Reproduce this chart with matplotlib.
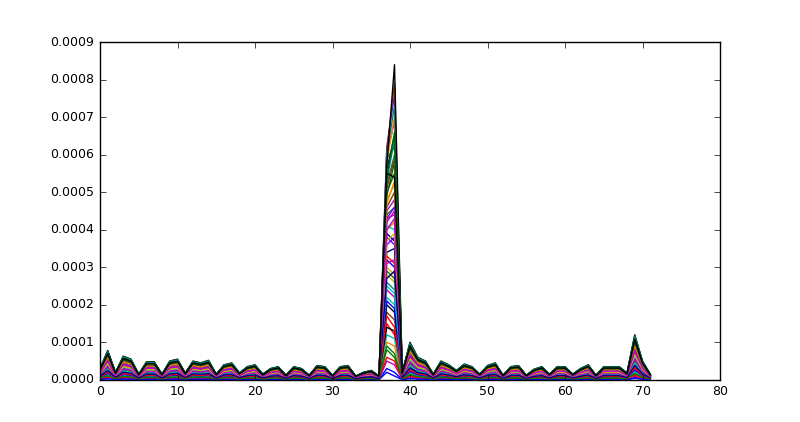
import matplotlib
matplotlib.use("Agg")
import matplotlib.pyplot as plt
import numpy as np
from cycler import cycler

plt.style.use("classic")
plt.rcParams["font.size"] = 9

# top envelope of the baseline profile (x = 0..71), in units of 1e-4; peak points set per series
envelope = [0.30, 0.78, 0.20, 0.63, 0.55, 0.15, 0.48, 0.48, 0.15, 0.50, 0.55, 0.18,
            0.50, 0.45, 0.52, 0.15, 0.40, 0.45, 0.18, 0.35, 0.40, 0.15, 0.30, 0.35,
            0.12, 0.35, 0.30, 0.12, 0.38, 0.35, 0.12, 0.35, 0.38, 0.10, 0.20, 0.25,
            0.10, 0.00, 0.00, 0.20, 1.00, 0.60, 0.50, 0.15, 0.50, 0.40, 0.25, 0.42,
            0.35, 0.15, 0.38, 0.45, 0.12, 0.35, 0.38, 0.12, 0.28, 0.35, 0.15, 0.35,
            0.35, 0.15, 0.30, 0.40, 0.12, 0.35, 0.35, 0.35, 0.18, 1.20, 0.50, 0.15]

scale = [0.05, 0.12, 0.20, 0.30, 0.08, 0.45, 0.60, 0.15, 0.25, 0.35, 0.50, 0.70, 0.90, 0.40,
         0.55, 0.65, 0.10, 0.18, 0.28, 0.38, 0.48, 0.58, 0.68, 0.78, 0.85, 0.95, 0.97, 1.00,
         0.22, 0.33, 0.44, 0.52, 0.62, 0.72, 0.82, 0.88, 0.92, 0.42, 0.75, 0.80, 0.98, 0.93,
         0.03, 0.14, 0.26, 0.36, 0.46, 0.56, 0.66, 0.76, 0.86, 0.96, 0.32, 0.64, 0.84, 0.90]

peak37 = [0.3, 0.8, 1.5, 2.2, 0.5, 3.0, 3.8, 1.0, 1.8, 2.6, 3.4, 4.2, 5.0, 2.0,
          3.2, 4.4, 0.6, 1.2, 2.4, 2.8, 3.6, 4.0, 4.6, 5.2, 5.6, 6.0, 5.9, 1.4,
          2.1, 2.9, 3.3, 4.1, 4.5, 4.8, 6.2, 5.8, 6.1, 6.0, 3.9, 4.3, 4.9, 5.7,
          0.2, 0.9, 1.7, 2.5, 3.1, 3.7, 4.3, 4.7, 5.1, 5.3, 2.7, 4.0, 5.4, 5.5]

peak38 = [0.2, 0.6, 1.2, 2.0, 0.4, 2.8, 3.6, 0.9, 1.6, 2.4, 3.5, 4.5, 5.5, 1.8,
          3.0, 4.6, 0.5, 1.1, 2.2, 2.6, 3.8, 4.2, 5.0, 6.0, 6.5, 6.9, 6.2, 1.3,
          1.9, 2.7, 3.1, 4.0, 4.8, 5.2, 7.6, 7.0, 7.9, 7.3, 3.7, 4.4, 5.8, 8.4,
          0.1, 0.7, 1.4, 2.3, 3.2, 3.9, 4.6, 5.3, 5.9, 6.4, 2.9, 4.3, 6.6, 5.4]

colors = ["b", "g", "r", "c", "m", "y", "#8000ff", "#ff8000", "#804000",
          "#008080", "#000080", "#c000c0", "#006000", "k"]

x = np.arange(len(envelope))
env = np.array(envelope) * 1e-4

fig = plt.figure(figsize=(8, 4.22), dpi=100, facecolor="white")
ax = fig.add_subplot(111)
ax.set_prop_cycle(cycler(color=colors))
for s, p37, p38 in zip(scale, peak37, peak38):
    y = env * s
    y[37] = p37 * 1e-4
    y[38] = p38 * 1e-4
    ax.plot(x, y, lw=1.0)

ax.set_xlim(0, 80)
ax.set_ylim(0, 0.0009)
ticks = np.arange(0, 0.00091, 0.0001)
ax.set_yticks(ticks)
ax.set_yticklabels([f"{v:.4f}" for v in ticks])
fig.savefig("out.png", dpi=100, facecolor="white")
